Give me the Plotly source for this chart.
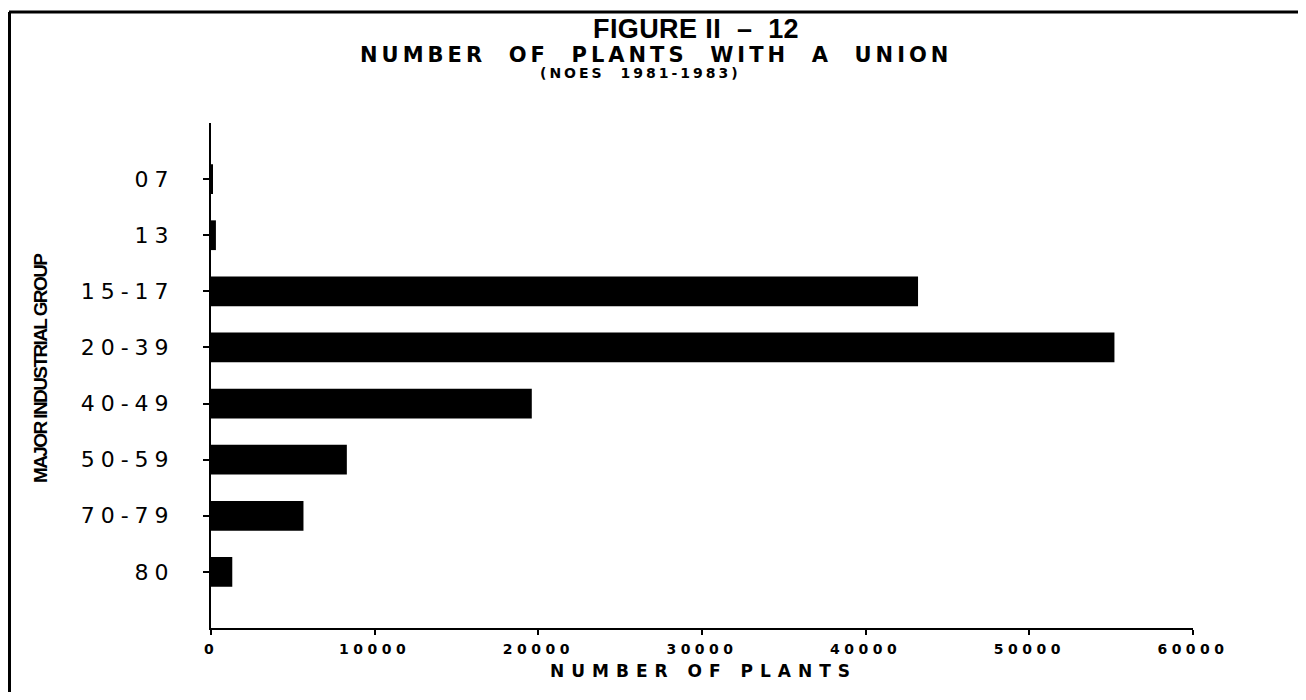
import plotly.graph_objects as go

# 数据
groups = ["07", "13", "15-17", "20-39", "40-49", "50-59", "70-79", "80"]
plants = [120, 300, 43200, 55200, 19600, 8300, 5650, 1300]
x_ticks = [0, 10000, 20000, 30000, 40000, 50000, 60000]
x_ticklabels = ["0", "10000", "20000", "30000", "40000", "50000", "60000"]

WIDE = "DejaVu Sans"
BOLD_SANS = "Liberation Sans, Arial"

# 页面像素 -> paper 坐标（页面 body 有 8px 边距）
L, T, PW, PH = 203, 115, 982, 505


def px(x):
    return (x - 8 - L) / PW


def py(y):
    return 1 - (y - 8 - T) / PH


def spaced(text, ls):
    """用 letter-spacing 模拟原图的宽体字。"""
    return f'<span style="letter-spacing:{ls}px">{text}</span>'


fig = go.Figure()
fig.add_trace(go.Bar(
    y=groups,
    x=plants,
    orientation="h",
    width=0.53,
    marker=dict(color="black", line=dict(width=0)),
    showlegend=False,
))

# 标题三行
titles = [
    (696, 29, "<b>FIGURE II  –  12</b>", BOLD_SANS, 27, 0.4),
    (656, 55, "<b>NUMBER  OF  PLANTS  WITH  A  UNION</b>", WIDE, 21, 4),
    (640, 73, "<b>(NOES  1981-1983)</b>", WIDE, 14, 3),
]
for xc, yc, txt, fam, sz, ls in titles:
    fig.add_annotation(
        x=px(xc), y=py(yc), xref="paper", yref="paper",
        text=spaced(txt, ls), showarrow=False,
        yanchor="middle", xanchor="center",
        font=dict(family=fam, size=sz, color="black"),
    )

# y 轴标题（窄体）
fig.add_annotation(
    x=px(40), y=py(368), xref="paper", yref="paper",
    text=spaced("<b>MAJOR INDUSTRIAL GROUP</b>", -1.6), showarrow=False,
    textangle=-90, xanchor="center", yanchor="middle",
    font=dict(family=BOLD_SANS, size=19, color="black"),
)

# x 轴标题
fig.add_annotation(
    x=px(703), y=py(671), xref="paper", yref="paper",
    text=spaced("<b>NUMBER OF PLANTS</b>", 7), showarrow=False,
    xanchor="center", yanchor="middle",
    font=dict(family=WIDE, size=17, color="black"),
)

# 边框（上、左）
fig.add_shape(type="line", xref="paper", yref="paper",
              x0=px(9), x1=px(1306), y0=py(12), y1=py(12),
              line=dict(color="black", width=3))
fig.add_shape(type="line", xref="paper", yref="paper",
              x0=px(9.5), x1=px(9.5), y0=py(700), y1=py(12),
              line=dict(color="black", width=3))

fig.update_layout(
    width=1290, height=684,
    paper_bgcolor="white", plot_bgcolor="white",
    margin=dict(l=L, r=1290 - L - PW, t=T, b=684 - T - PH, pad=0),
    xaxis=dict(
        range=[0, 60000],
        tickmode="array", tickvals=x_ticks,
        ticktext=[spaced(f"<b>{t}</b>", 4.5) for t in x_ticklabels],
        showgrid=False, zeroline=False,
        showline=True, linecolor="black", linewidth=2,
        ticks="outside", ticklen=5, tickwidth=2, tickcolor="black",
        ticklabelstandoff=2,
        tickfont=dict(family=WIDE, size=14, color="black"),
    ),
    yaxis=dict(
        type="category",
        categoryorder="array", categoryarray=groups,
        range=[8, -1],
        tickmode="array", tickvals=groups,
        ticktext=[spaced(g, 6) for g in groups],
        showgrid=False, zeroline=False,
        showline=True, linecolor="black", linewidth=2,
        ticks="outside", ticklen=6, tickwidth=2, tickcolor="black",
        ticklabelstandoff=24,
        tickfont=dict(family=WIDE, size=22, color="black"),
    ),
)

fig.write_html("out.html")
